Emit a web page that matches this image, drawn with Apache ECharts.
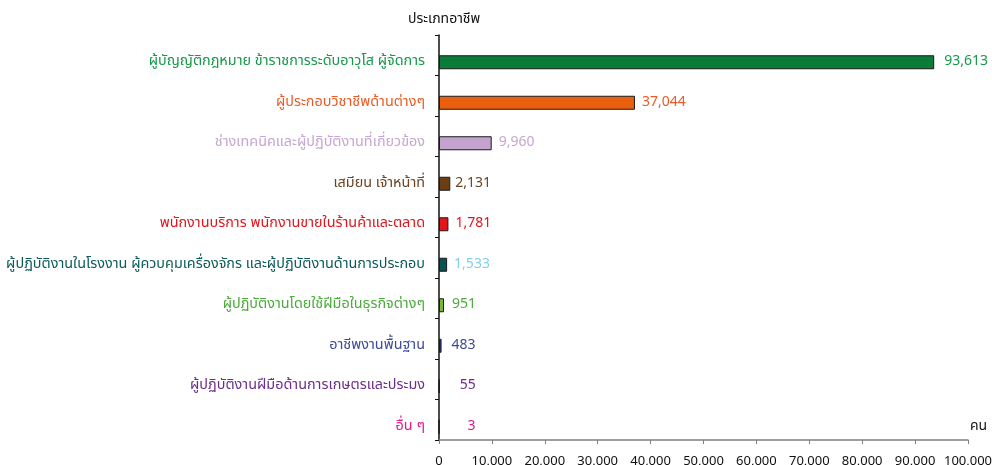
<!DOCTYPE html>
<html>
<head>
<meta charset="utf-8">
<script src="https://cdn.jsdelivr.net/npm/echarts@6/dist/echarts.min.js"></script>
<style>
  html, body { margin: 0; padding: 0; background: #ffffff; }
  #chart { width: 992px; height: 465px; }
</style>
</head>
<body>
<div id="chart"></div>
<script>
// Occupation groups, top to bottom
const categories = [
  'ผู้บัญญัติกฎหมาย ข้าราชการระดับอาวุโส ผู้จัดการ',
  'ผู้ประกอบวิชาชีพด้านต่างๆ',
  'ช่างเทคนิคและผู้ปฏิบัติงานที่เกี่ยวข้อง',
  'เสมียน เจ้าหน้าที่',
  'พนักงานบริการ พนักงานขายในร้านค้าและตลาด',
  'ผู้ปฏิบัติงานในโรงงาน ผู้ควบคุมเครื่องจักร และผู้ปฏิบัติงานด้านการประกอบ',
  'ผู้ปฏิบัติงานโดยใช้ฝีมือในธุรกิจต่างๆ',
  'อาชีพงานพื้นฐาน',
  'ผู้ปฏิบัติงานฝีมือด้านการเกษตรและประมง',
  'อื่น ๆ'
];
// Number of persons per group
const persons = [93613, 37044, 9960, 2131, 1781, 1533, 951, 483, 55, 3];
// Value axis ticks
const xTicks = [0, 10000, 20000, 30000, 40000, 50000, 60000, 70000, 80000, 90000, 100000];

const axisTitle = 'ประเภทอาชีพ';
const unitTitle = 'คน';

// Colours
const barColors = ['#0a7c37', '#ea5f0e', '#c4a4cf', '#6b3f16', '#e3141b', '#0b5252', '#7bba2f', '#2e3a8c', '#6b2d8a', '#e6198b'];
const nameColors = ['#17994a', '#ee5a24', '#c6a6d2', '#6b4423', '#e3141c', '#0d5a5a', '#4aab3a', '#3d4a9a', '#6b2d8a', '#e6198b'];
const valueColors = ['#17994a', '#ee5a24', '#c6a6d2', '#6b4423', '#e3141c', '#82cfe8', '#4aab3a', '#3d4a9a', '#6b2d8a', '#e6198b'];
// Extra horizontal shift (px) of value labels so the tiny ones line up
const labelShift = [3, 0, 0, -2, 0, 0, 1, 3, 13, 21];

const FONT = "'Noto Sans Thai', 'Noto Sans', sans-serif";

const chart = echarts.init(document.getElementById('chart'), null, { renderer: 'canvas' });

const option = {
  backgroundColor: '#ffffff',
  animation: false,
  title: [
    { text: axisTitle, left: 403, top: 8,
      textStyle: { fontFamily: FONT, fontSize: 14, fontWeight: 'normal', color: '#111' } },
    { text: unitTitle, left: 965, top: 415,
      textStyle: { fontFamily: FONT, fontSize: 14, fontWeight: 'normal', color: '#111' } }
  ],
  grid: [
    // frame: axis lines and ticks
    { left: 439, right: 24, top: 35, bottom: 25, containLabel: false, outerBoundsMode: 'none' },
    // bars and category names
    { left: 439, right: 24, top: 42, bottom: 18, containLabel: false, outerBoundsMode: 'none' }
  ],
  xAxis: [
    {
      gridIndex: 0, type: 'value', min: xTicks[0], max: xTicks[xTicks.length - 1], interval: 10000,
      splitLine: { show: false },
      axisLine: { show: true, lineStyle: { color: '#808080', width: 1.5 } },
      axisTick: { show: true, length: 4, lineStyle: { color: '#808080' } },
      axisLabel: {
        margin: 16, fontFamily: FONT, fontSize: 13, color: '#111',
        formatter: v => v.toLocaleString('en-US')
      }
    },
    {
      gridIndex: 1, type: 'value', min: xTicks[0], max: xTicks[xTicks.length - 1],
      show: false
    }
  ],
  yAxis: [
    {
      gridIndex: 0, type: 'category', inverse: true, data: categories,
      axisLine: { show: true, lineStyle: { color: '#111', width: 1.5 } },
      axisTick: { show: true, length: 4, lineStyle: { color: '#111' } },
      axisLabel: { show: false }
    },
    {
      gridIndex: 1, type: 'category', inverse: true,
      data: categories.map((c, i) => ({ value: c, textStyle: { color: nameColors[i] } })),
      axisLine: { show: false },
      axisTick: { show: false },
      axisLabel: { margin: 14, fontFamily: FONT, fontSize: 14.4 }
    }
  ],
  series: [
    {
      type: 'bar', xAxisIndex: 0, yAxisIndex: 0, data: [], silent: true
    },
    {
      type: 'bar', xAxisIndex: 1, yAxisIndex: 1, barWidth: 14,
      data: persons.map((v, i) => ({
        value: v,
        itemStyle: { color: barColors[i], borderColor: '#1a1a1a', borderWidth: 1 },
        label: { color: valueColors[i], offset: [labelShift[i], 0] }
      })),
      label: {
        show: true, position: 'right', distance: 7,
        fontFamily: FONT, fontSize: 14,
        formatter: p => p.value.toLocaleString('en-US')
      }
    }
  ]
};

chart.setOption(option);
</script>
</body>
</html>
